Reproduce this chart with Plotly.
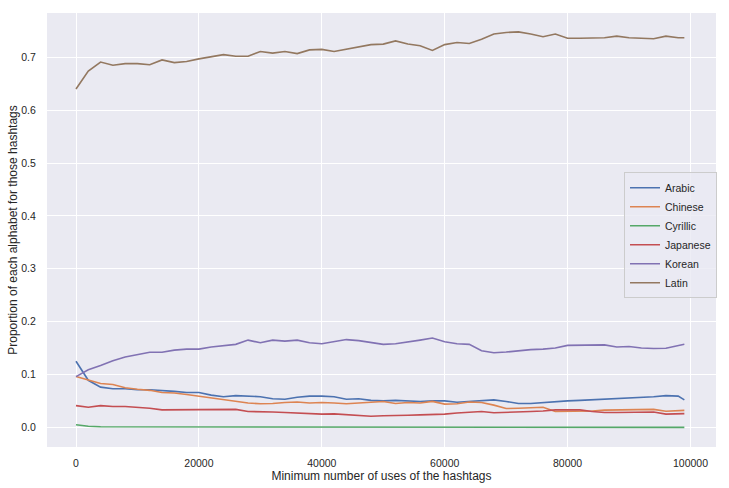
import plotly.graph_objects as go

min_uses = [0, 2000, 4000, 6000, 8000, 10000, 12000, 14000, 16000, 18000,
            20000, 22000, 24000, 26000, 28000, 30000, 32000, 34000, 36000, 38000,
            40000, 42000, 44000, 46000, 48000, 50000, 52000, 54000, 56000, 58000,
            60000, 62000, 64000, 66000, 68000, 70000, 72000, 74000, 76000, 78000,
            80000, 82000, 84000, 86000, 88000, 90000, 92000, 94000, 96000, 98000, 99000]

arabic = [0.125, 0.089, 0.076, 0.073, 0.073, 0.071, 0.071, 0.070, 0.068, 0.066,
          0.066, 0.061, 0.058, 0.060, 0.0585, 0.058, 0.054, 0.053, 0.057, 0.059,
          0.059, 0.058, 0.053, 0.054, 0.051, 0.050, 0.051, 0.050, 0.049, 0.050,
          0.050, 0.0475, 0.049, 0.051, 0.052, 0.049, 0.045, 0.045, 0.047, 0.049,
          0.050, 0.051, 0.052, 0.0535, 0.055, 0.056, 0.057, 0.058, 0.060, 0.059, 0.052]

chinese = [0.096, 0.089, 0.083, 0.081, 0.075, 0.072, 0.070, 0.066, 0.065, 0.062,
           0.059, 0.056, 0.052, 0.050, 0.046, 0.0445, 0.045, 0.047, 0.048, 0.046,
           0.047, 0.046, 0.0445, 0.046, 0.048, 0.049, 0.045, 0.047, 0.046, 0.049,
           0.044, 0.0445, 0.048, 0.047, 0.042, 0.0355, 0.036, 0.037, 0.038, 0.030,
           0.030, 0.030, 0.031, 0.0325, 0.033, 0.033, 0.0335, 0.034, 0.0305, 0.031, 0.032]

cyrillic = [0.005, 0.002, 0.001, 0.001, 0.001, 0.001, 0.001, 0.001, 0.001, 0.001,
            0.001, 0.001, 0.001, 0.001, 0.001, 0.001, 0.001, 0.001, 0.001, 0.0,
            0.0, 0.0, 0.0, 0.0, 0.0, 0.0, 0.0, 0.0, 0.0, 0.0,
            0.0, 0.0, 0.0, 0.0, 0.0, 0.0, 0.0, 0.0, 0.0, 0.0,
            0.0, 0.0, 0.0, 0.0, 0.0, 0.0, 0.0, 0.0, 0.0, 0.0, 0.0]

japanese = [0.041, 0.038, 0.041, 0.0395, 0.0395, 0.038, 0.036, 0.033, 0.033, 0.034,
            0.033, 0.033, 0.033, 0.034, 0.030, 0.030, 0.029, 0.028, 0.027, 0.026,
            0.025, 0.0255, 0.024, 0.0215, 0.021, 0.022, 0.022, 0.023, 0.0235, 0.024,
            0.025, 0.027, 0.028, 0.030, 0.0275, 0.028, 0.029, 0.030, 0.031, 0.033,
            0.033, 0.033, 0.030, 0.028, 0.028, 0.028, 0.0285, 0.029, 0.025, 0.026, 0.026]

korean = [0.096, 0.109, 0.117, 0.126, 0.133, 0.137, 0.142, 0.142, 0.146, 0.148,
          0.148, 0.152, 0.155, 0.157, 0.165, 0.160, 0.165, 0.163, 0.165, 0.160,
          0.158, 0.162, 0.166, 0.164, 0.160, 0.157, 0.158, 0.161, 0.165, 0.169,
          0.162, 0.158, 0.157, 0.145, 0.141, 0.1425, 0.145, 0.147, 0.148, 0.150,
          0.155, 0.155, 0.155, 0.156, 0.152, 0.153, 0.150, 0.149, 0.1495, 0.154, 0.157]

latin = [0.640, 0.674, 0.691, 0.685, 0.688, 0.688, 0.686, 0.695, 0.690, 0.692,
         0.697, 0.701, 0.705, 0.702, 0.702, 0.711, 0.708, 0.711, 0.707, 0.714,
         0.715, 0.711, 0.715, 0.720, 0.724, 0.725, 0.731, 0.725, 0.722, 0.713,
         0.724, 0.728, 0.726, 0.734, 0.744, 0.747, 0.748, 0.744, 0.739, 0.744,
         0.736, 0.736, 0.737, 0.737, 0.740, 0.737, 0.736, 0.735, 0.740, 0.737, 0.737]

series_names = ["Arabic", "Chinese", "Cyrillic", "Japanese", "Korean", "Latin"]
series_values = [arabic, chinese, cyrillic, japanese, korean, latin]
colors = ["#4C72B0", "#DD8452", "#55A868", "#C44E52", "#8172B3", "#937860"]

fig = go.Figure()
for name, vals, col in zip(series_names, series_values, colors):
    fig.add_trace(go.Scatter(x=min_uses, y=vals, mode="lines", name=name,
                             line=dict(color=col, width=1.6)))

font_fam = "Liberation Sans, Arial, sans-serif"
fig.update_layout(
    width=729, height=488,
    margin=dict(l=47, r=13, t=13, b=41),
    paper_bgcolor="white", plot_bgcolor="#EAEAF2",
    font=dict(family=font_fam, color="#262626", size=10.5),
    showlegend=True,
    legend=dict(x=0.8625, y=0.633, xanchor="left", yanchor="top",
                bgcolor="rgba(234,234,242,0.8)", bordercolor="#cccccc", borderwidth=1,
                font=dict(size=10.5, color="#262626"), itemwidth=30),
)
fig.update_xaxes(range=[-4720, 104150], tickvals=[0, 20000, 40000, 60000, 80000, 100000],
                 ticktext=["0", "20000", "40000", "60000", "80000", "100000"],
                 showgrid=True, gridcolor="white", gridwidth=1, zeroline=False,
                 showline=False, ticks="outside", ticklen=6, tickcolor="rgba(0,0,0,0)",
                 tickfont=dict(size=10.5), automargin=False,
                 title=dict(text="Minimum number of uses of the hashtags", font=dict(size=12), standoff=4))
fig.update_yaxes(range=[-0.0372, 0.7838], tickvals=[0, 0.1, 0.2, 0.3, 0.4, 0.5, 0.6, 0.7],
                 ticktext=["0.0", "0.1", "0.2", "0.3", "0.4", "0.5", "0.6", "0.7"],
                 showgrid=True, gridcolor="white", gridwidth=1, zeroline=False,
                 showline=False, ticks="outside", ticklen=8, tickcolor="rgba(0,0,0,0)",
                 tickfont=dict(size=10.5), automargin=False,
                 title=dict(text="Proportion of each alphabet for those hashtags", font=dict(size=12), standoff=1))

fig.write_html("out.html")
